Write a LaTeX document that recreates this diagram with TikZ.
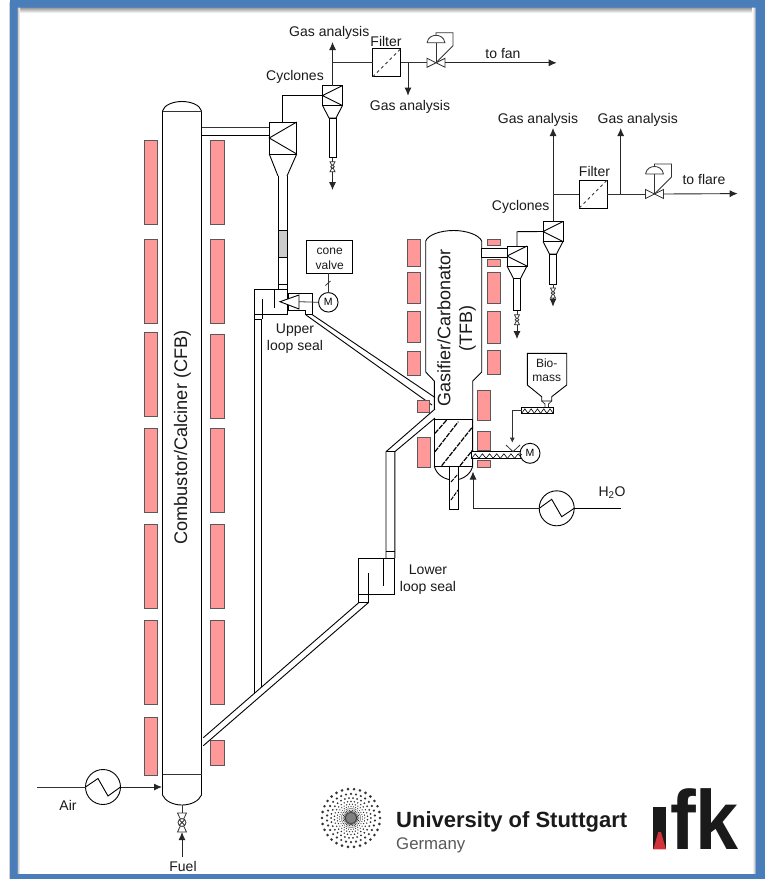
\documentclass[tikz,border=0pt]{standalone}
\usepackage{fontspec}
\setmainfont{Liberation Sans}
\usetikzlibrary{arrows.meta,calc}
\definecolor{frameblue}{HTML}{4A7EBB}
\definecolor{brick}{HTML}{FF9999}
\definecolor{brickline}{HTML}{595959}
\definecolor{inkk}{HTML}{1A1A1A}
\definecolor{ifkred}{HTML}{D0333C}
\tikzset{
  pipe/.style={line width=0.9pt,draw=black,line join=miter},
  thinp/.style={line width=0.8pt,draw=black!80},
  flow/.style={line width=0.9pt,draw=black!85,-{Latex[length=8pt,width=7pt]}},
  unit/.style={draw=black,line width=0.9pt,fill=white,inner sep=0pt,outer sep=0pt},
  lab/.style={inner sep=0pt,text=inkk,font=\fontsize{14}{17.6}\selectfont,align=center},
  labs/.style={inner sep=0pt,text=inkk,font=\fontsize{12}{14.5}\selectfont,align=center},
  motor/.style={circle,draw=black,line width=0.9pt,fill=white,minimum size=19.5pt,inner sep=0pt,outer sep=0pt,font=\fontsize{10.5}{12}\selectfont},
  hx/.style={circle,draw=black,line width=0.9pt,fill=white,minimum size=35pt,inner sep=0pt,outer sep=0pt},
}
\newcommand{\brickbar}[4]{\fill[brick,draw=brickline,line width=0.9pt] (#1,#3) rectangle (#2,#4);}
% name, centre x, top y, pipe bottom y, arrow end y
\newcommand{\minicyclone}[5]{%
  \node[unit,minimum width=20pt,minimum height=20pt,anchor=north] (#1) at (#2,#3) {};
  \draw[pipe] (#1.north east) -- (#1.west) -- (#1.south east);
  \draw[pipe] (#1.south west) -- ($(#1.south)+(-3.5,12.5)$) -- ($(#1.south)+(3.5,12.5)$) -- (#1.south east);
  \draw[pipe,fill=white] ($(#1.south)+(-3.5,12.5)$) rectangle (#2+3.5,#4);
  \draw[thinp] (#2-2.5,#4+4) -- (#2+2.5,#4+4) -- (#2-2.5,#4+14) -- (#2+2.5,#4+14) -- cycle;
  \draw[thinp] (#2,#4) -- (#2,#4+4);
  \draw[thinp,fill=white] (#2,#4+9) circle (1.8);
  \draw[flow] (#2,#4+14) -- (#2,#5);
}
% name, centre x, line y
\newcommand{\ctrlvalve}[3]{%
  \coordinate (#1) at (#2,#3);
  \draw[thinp,fill=white] (#2-9,#3-4.5) -- (#2+9,#3+4.5) -- (#2+9,#3-4.5) -- (#2-9,#3+4.5) -- cycle;
  \draw[thinp] (#2,#3) -- (#2,#3-20);
  \draw[thinp] (#2-9,#3-20) -- (#2+9,#3-20) .. controls (#2+8,#3-26) and (#2+3,#3-27.5) .. (#2,#3-27.5) .. controls (#2-3,#3-27.5) and (#2-8,#3-26) .. (#2-9,#3-20);
  \draw[thinp] (#2,#3-27.5) -- (#2,#3-30) -- (#2+17,#3-30) -- (#2+17,#3-17) -- (#2,#3);
}
\newcommand{\screwteeth}[4]{% x0, y bottom, count, pitch
  \foreach \i in {1,...,#3}{\draw[line width=0.6pt] (#1+\i*#4-#4,#2) -- ++(#4/2,-4.5) -- ++(#4/2,4.5);}
}
\begin{document}
\begin{tikzpicture}[x=1pt,y=-1pt]
\useasboundingbox (0,0) rectangle (765,879);
\fill[white] (0,0) rectangle (765,879);
% frame and soft shadow
\shade[top color=black!45,bottom color=white] (17,7) rectangle (756,13);
\shade[left color=black!30,right color=white] (17,7) rectangle (20,874);
\shade[left color=white,right color=black!30] (752,7) rectangle (756,874);
\fill[black!18] (8.5,2) rectangle (10,879);
\fill[frameblue,even odd rule] (10,0) rectangle (765,879) (17.5,7.5) rectangle (755.5,874);

% ---- CFB column
\foreach \a/\b in {140/224,239/323,332/416,428/512,524/608,620/704,717/775}{\brickbar{144}{157}{\a}{\b}}
\foreach \a/\b in {140/224,239/323,334/418,428/512,524/608,620/704,740/765}{\brickbar{210.5}{224}{\a}{\b}}
\coordinate (cfbTL) at (162.5,111);
\coordinate (cfbTR) at (201.5,111);
\coordinate (cfbBL) at (162.5,774);
\coordinate (cfbBR) at (201.5,774);
\draw[pipe] (cfbBL) -- (cfbTL) .. controls (164,105) and (173,101.5) .. (182,101.5) .. controls (191,101.5) and (200,105) .. (cfbTR) -- (cfbBR);
\draw[pipe] (cfbBL) -- (162.5,795) .. controls (165,801) and (173,805) .. (182,805) .. controls (191,805) and (199,801) .. (201.5,795) -- (cfbBR);
\draw[thinp] (cfbTL) -- (cfbTR);
\draw[thinp] (cfbBL) -- (cfbBR);
\node[lab,font=\fontsize{18.2}{20}\selectfont,rotate=90] (cfbtext) at (182.5,437.5) {Combustor/Calciner (CFB)};

% ---- big cyclone
\node[unit,minimum width=27.5pt,minimum height=32pt,anchor=north] (bigcyc) at (283,122) {};
\draw[pipe] (bigcyc.north east) -- (bigcyc.west) -- (bigcyc.south east);
\coordinate (cx1) at (201.5,127);
\coordinate (cx2) at (201.5,135.5);
\draw[thinp] (cx1) -- (bigcyc.west |- cx1);
\draw[pipe] (cx2) -- (bigcyc.west |- cx2);
\coordinate (sL) at (278,176);
\coordinate (sR) at (287,176);
\draw[pipe] (bigcyc.south west) -- (sL);
\draw[pipe] (bigcyc.south east) -- (sR);
\draw[pipe] (sL) -- (278,289);
\draw[pipe] (sR) -- (287,289);
\fill[black!20,draw=black,line width=0.8pt] (278,230) rectangle (287,257.5);
\draw[pipe] (278,284) -- (287,284);

% ---- upper loop seal + cone valve
\coordinate (usL) at (254,289);
\coordinate (usR) at (287,314);
\draw[pipe] (usL) rectangle (usR);
\draw[pipe] (274,289) -- (274,308);
\draw[pipe] (262,299) -- (262,319);
\draw[pipe] (254,319.5) -- (262,319.5);
\draw[pipe] (254,314) -- (254,693.5);
\draw[pipe] (261.5,319.5) -- (261.5,687);
\draw[pipe] (288,293) -- (312,293) -- (312,314) -- (305.7,314) -- (305.7,310) -- (288,310) -- cycle;
\node[motor] (m1) at (328.3,302.3) {M};
\draw[pipe,fill=white] (280,301.7) -- (299,295) -- (299,309) -- cycle;
\draw[thinp] (299,301.7) -- (m1.west);
\node[unit,minimum width=46pt,minimum height=32.5pt,labs,fill=white] (conebox) at (329.7,257) {\rule{0pt}{10.5pt}cone\\valve};
\draw[thinp] (conebox.south -| m1) -- (m1.north);
\draw[thinp] (325.5,285.5) -- (330.5,281);
\node[lab] (uls) at (295,338.5) {Upper\\loop seal};
% diagonal to gasifier
\coordinate (d1a) at (312,314.5);
\coordinate (d1b) at (306,315);
\coordinate (d1c) at (435,397.5);
\coordinate (d1d) at (432,405);
\draw[pipe] (d1a) -- (d1c);
\draw[pipe] (d1b) -- (d1d);

% ---- lower loop seal
\coordinate (lsA) at (358.7,558);
\coordinate (lsB) at (394.5,594);
\draw[pipe] (lsA) rectangle (lsB);
\draw[pipe] (383.3,558) -- (383.3,586);
\draw[pipe] (368.3,572.7) -- (368.3,602.7);
\coordinate (lsC) at (358.7,602.7);
\coordinate (lsD) at (368.3,602.7);
\draw[pipe] (lsA |- lsB) -- (lsC) -- (lsD);
\coordinate (dL1) at (203.3,737.7);
\coordinate (dL2) at (203.3,745.7);
\draw[pipe] (lsC) -- (dL1);
\draw[pipe] (lsD) -- (dL2);
\coordinate (v1) at (386,451.7);
\coordinate (v2) at (394.8,451.7);
\coordinate (g1) at (435,409);
\coordinate (g2) at (435,418);
\draw[pipe] (v1 |- lsA) -- (v1) -- (g1);
\draw[pipe] (v2 |- lsA) -- (v2) -- (g2);
\draw[pipe] (v1) -- (v2);
\draw[pipe] (386,551) -- (394.8,551);
\node[lab] (lls) at (428,579.5) {Lower\\loop seal};

% ---- gasifier
\foreach \a/\b in {239/266,272.7/303,311/342,351.7/375}{\brickbar{407.7}{420}{\a}{\b}}
\brickbar{417.7}{429.5}{400}{412}
\brickbar{417.7}{430}{437}{467}
\brickbar{487.3}{500}{239}{245.7}
\brickbar{487.3}{500}{259}{266}
\foreach \a/\b in {272/303,311/343,350.7/374}{\brickbar{487.3}{500}{\a}{\b}}
\foreach \a/\b in {390/420,431.7/450.7,460/467.7}{\brickbar{477.7}{490}{\a}{\b}}
\coordinate (gL) at (425.7,241);
\coordinate (gR) at (481.7,241);
\draw[pipe] (434.3,409) -- (434.3,381) -- (425.7,372) -- (gL) .. controls (428,235) and (440,230.5) .. (453.7,230.5) .. controls (467,230.5) and (479,235) .. (gR) -- (481.7,372) -- (472.7,381) -- (472.7,466);
\foreach \a/\b/\c/\d in {435/433.3/446.7/420,435/451.7/458.3/421.7,441.7/465.7/472.7/426.7,460/465.7/472.7/450}{
  \draw[line width=1.2pt,dash pattern=on 5pt off 1.2pt] (\a,\b) -- (\c,\d);}
\draw[pipe] (434.3,419.3) rectangle (472.7,466);
\draw[pipe] (434.3,466) .. controls (436,474) and (444,480) .. (453.7,480) .. controls (463,480) and (471,474) .. (472.7,466);
\draw[pipe,fill=white] (449.5,466) rectangle (458.5,509.3);
\foreach \a/\b/\c/\d in {451/482/458/474,451/500/458/490}{
  \draw[line width=1pt,dash pattern=on 4pt off 1.2pt] (\a,\b) -- (\c,\d);}
\node[lab,font=\fontsize{18}{20}\selectfont,rotate=90] (gastext) at (444,328) {Gasifier/Carbonator};
\node[lab,font=\fontsize{18}{20}\selectfont,rotate=90] (tfbtext) at (467.5,328.5) {(TFB)};

% biomass feed
\node[unit,minimum width=31.6pt,minimum height=6pt,fill=white] (screwA) at (537.5,410.3) {};
\screwteeth{521.7}{413.3}{5}{6.3}
\node[unit,minimum width=50pt,minimum height=6.6pt,fill=white] (screwB) at (496.7,455) {};
\screwteeth{471.7}{458.3}{7}{7.15}
\node[motor,minimum size=20pt] (m2) at (530,453.3) {M};
\draw[thinp] (screwB.east) -- (m2.west);
\coordinate (hp1) at (527.3,353.3);
\coordinate (hp2) at (566.7,353.3);
\draw[pipe,fill=white] (hp1) -- (hp2) -- (566.7,385) -- (551.7,396.7) -- (551.7,401) -- (541.7,401) -- (541.7,396.7) -- (527.3,385) -- cycle;
\draw[thinp] (541.7,401) -- (545,404) -- (545,407.3);
\draw[thinp] (551.7,401) -- (548.5,404) -- (548.5,407.3);
\node[labs] (biotext) at (546.7,370) {Bio-\\mass};
\coordinate (feedEnd) at (512.3,442.7);
\draw[thinp,-{Latex[length=5pt,width=5pt]}] (screwA.west) -- (screwA.west -| feedEnd) -- (feedEnd);
\draw[thinp] (506,445) -- (513,451.7) -- (520,445);

% H2O heat exchanger
\node[hx] (hx2) at (556.7,508.3) {};
\draw[pipe] (hx2.west) -- (551.7,499.3) -- (561.7,516.7) -- (hx2.east);
\coordinate (waterEnd) at (620.7,508.3);
\draw[pipe] (hx2.east) -- (waterEnd);
\coordinate (waterIn) at (473,471.5);
\draw[flow] (hx2.west) -- (hx2.west -| waterIn) -- (waterIn);
\node[lab] (h2o) at (612,493) {H\textsubscript{2}O};

% ---- top train
\minicyclone{cycA}{332.5}{85.5}{157.7}{190}
\draw[pipe] (cycA.west) -- (282.7,95.5) -- (282.7,122);
\node[unit,minimum width=28pt,minimum height=28pt] (filtA) at (386.7,62.8) {};
\draw[thinp,dashed] (filtA.south west) -- (filtA.north east);
\coordinate (jA) at (332.5,62.8);
\node[lab] (gaA) at (329.3,33) {Gas analysis};
\node[lab] (gaB) at (410,106.5) {Gas analysis};
\node[lab] (filtAt) at (386,41) {Filter};
\node[lab] (cycAt) at (295,77) {Cyclones};
\node[lab] (fan) at (503,53.5) {to fan};
\coordinate (gaAend) at (332.5,42);
\coordinate (gaBend) at (408,95.7);
\coordinate (fanEnd) at (556.7,62.8);
\draw[flow] (cycA.north) -- (gaAend);
\draw[thinp] (jA) -- (filtA.west);
\ctrlvalve{valA}{436}{62.8}
\draw[thinp] (filtA.east) -- (427,62.8);
\draw[flow] (408,62.8) -- (gaBend);
\draw[flow] ($(valA)+(9,0)$) -- (fanEnd);

% ---- right train
\minicyclone{cycB}{517}{246}{310.7}{339}
\draw[pipe,fill=white] (481.7,248) rectangle (507,257);
\minicyclone{cycC}{553}{221.5}{284}{306.7}
\draw[pipe] (cycB.north) -- (517,231.7) -- (cycC.west);
\node[unit,minimum width=28pt,minimum height=28pt] (filtB) at (593.3,194) {};
\draw[thinp,dashed] (filtB.south west) -- (filtB.north east);
\node[lab] (gaC) at (538,120) {Gas analysis};
\node[lab] (gaD) at (637.7,120) {Gas analysis};
\node[lab] (filtBt) at (594.5,171) {Filter};
\node[lab] (cycBt) at (520.7,207) {Cyclones};
\node[lab] (flare) at (704,179) {to flare};
\coordinate (gaCend) at (553,128);
\coordinate (gaDend) at (620.7,128);
\coordinate (flareEnd) at (737.7,193.6);
\coordinate (jB) at (553,194);
\draw[flow] (cycC.north) -- (gaCend);
\draw[thinp] (jB) -- (filtB.west);
\ctrlvalve{valB}{654.5}{194}
\draw[thinp] (filtB.east) -- (645.5,194);
\draw[flow] (620.7,194) -- (gaDend);
\draw[flow] ($(valB)+(9,0)$) -- (flareEnd);

% ---- air and fuel
\node[hx] (hx1) at (103,787) {};
\draw[pipe] (hx1.west) -- (98,778.5) -- (108,796) -- (hx1.east);
\coordinate (airS) at (37,787);
\coordinate (airE) at (162,787);
\draw[thinp] (airS) -- (hx1.west);
\draw[flow] (hx1.east) -- (airE);
\node[lab] (airt) at (68,805) {Air};
\node[lab] (fuelt) at (183,866.5) {Fuel};
\coordinate (fv) at (182,822.5);
\draw[thinp] (182,805) -- (182,813);
\draw[thinp] (177.5,813) -- (186.5,813) -- (177.5,832) -- (186.5,832) -- cycle;
\draw[thinp,fill=white] (fv) circle (4);
\draw[thinp] (179.2,819.7) -- (184.8,825.3) (184.8,819.7) -- (179.2,825.3);
\draw[flow] (182,857) -- (182,832);

% ---- logos
\fill[black!50] (351,818) circle (6);
\foreach \k in {0,...,9}{
  \pgfmathsetmacro{\rr}{29*0.83^\k}
  \pgfmathsetmacro{\ds}{max(0.6,0.05*\rr)}
  \foreach \m in {0,...,29}{
    \pgfmathsetmacro{\ang}{(\m+0.5*mod(\k,2))*12}
    \fill[black!80] ($(351,818)+(\ang:\rr)$) circle (\ds);
  }
}
\node[inner sep=0pt,anchor=base west,text=inkk,font=\fontsize{22}{24}\selectfont\bfseries] (unitext) at (396,827.5) {University of Stuttgart};
\node[inner sep=0pt,anchor=base west,text=black!65,font=\fontsize{16.8}{18}\selectfont] (gertext) at (396,849) {Germany};
\fill[inkk] (653.3,807.3) rectangle (666,849.3);
\fill[ifkred] (653.3,849.3) -- (666,849.3) -- (661,832) -- (658.3,832) -- cycle;
\node[inner sep=0pt,anchor=base west,text=inkk,font=\fontsize{84}{90}\selectfont\bfseries,xscale=0.92] (ifktext) at (670,849.3) {fk};
\end{tikzpicture}
\end{document}
